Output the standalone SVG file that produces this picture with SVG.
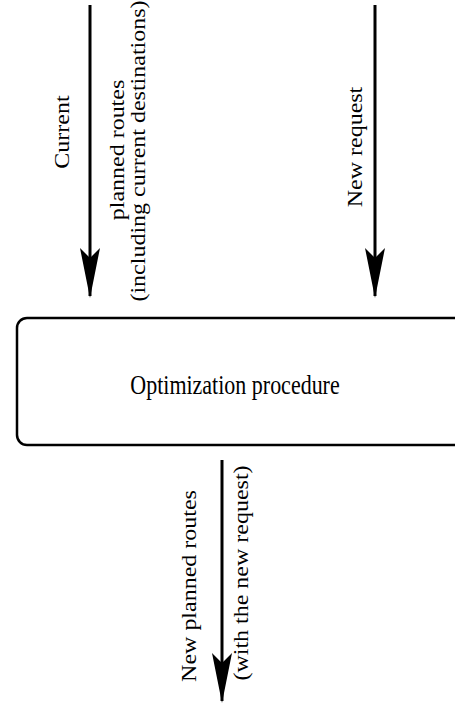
<svg xmlns="http://www.w3.org/2000/svg" width="455" height="704" viewBox="0 0 455 704">
<style>
.lbl{font-family:"Liberation Serif","Times New Roman",serif;font-size:20px;fill:#000;text-anchor:middle}
.title{font-family:"Liberation Serif","Times New Roman",serif;font-size:22px;fill:#000;text-anchor:middle}
.conn{stroke:#000;stroke-width:3;fill:none}
.box{fill:#fff;stroke:#000;stroke-width:2.5}
</style>
<defs>
<marker id="ah" markerUnits="userSpaceOnUse" markerWidth="22" markerHeight="50" viewBox="0 0 22 50" refX="11" refY="48" orient="0">
<path d="M11 50 L1 0 L11 10 L21 0 Z" fill="#000"/>
</marker>
</defs>
<rect width="455" height="704" fill="#fff"/>
<g id="connectors">
<g id="c-current">
<line class="conn" x1="90" y1="5" x2="90" y2="296" marker-end="url(#ah)"/>
<text class="lbl" transform="translate(69,132) rotate(-90) scale(1.2,1)">Current</text>
<text class="lbl" transform="translate(124,150) rotate(-90) scale(1.2,1)">planned routes</text>
<text class="lbl" transform="translate(145,151) rotate(-90) scale(1.2,1)">(including current destinations)</text>
</g>
<g id="c-request">
<line class="conn" x1="375" y1="5" x2="375" y2="296" marker-end="url(#ah)"/>
<text class="lbl" transform="translate(362,147) rotate(-90) scale(1.2,1)">New request</text>
</g>
<g id="c-out">
<line class="conn" x1="222" y1="460" x2="222" y2="701" marker-end="url(#ah)"/>
<text class="lbl" transform="translate(196,586) rotate(-90) scale(1.2,1)">New planned routes</text>
<text class="lbl" transform="translate(248,573) rotate(-90) scale(1.2,1)">(with the new request)</text>
</g>
</g>
<g id="optimization">
<rect class="box" x="17" y="318" width="460" height="127" rx="10" ry="10"/>
<text class="title" transform="translate(235,394) scale(1,1.2)">Optimization procedure</text>
</g>
</svg>
